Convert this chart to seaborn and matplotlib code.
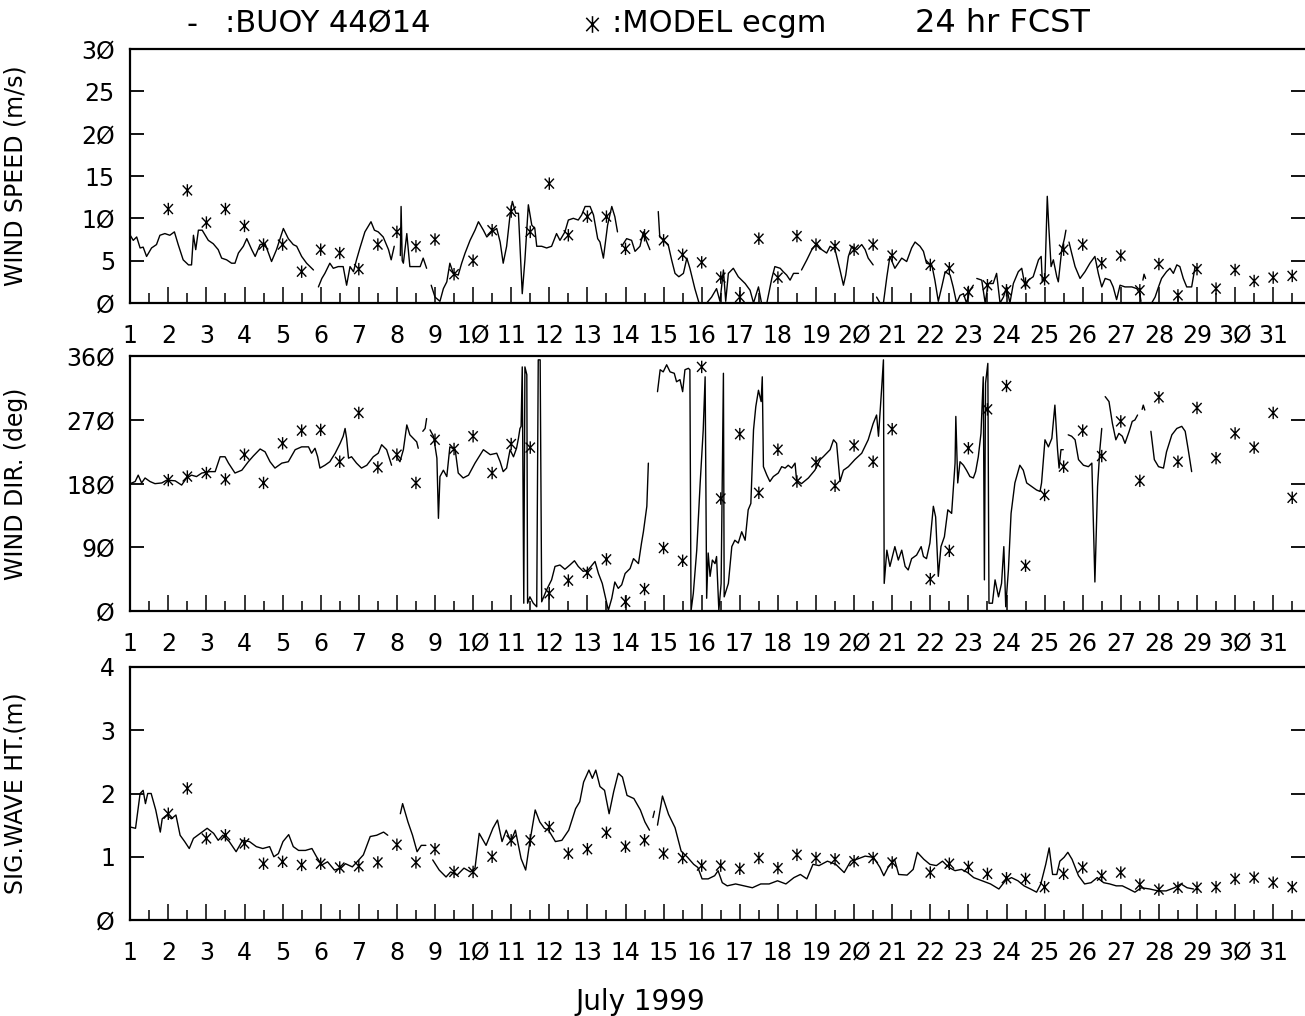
import numpy as np
import pandas as pd
import matplotlib
matplotlib.use("Agg")
import matplotlib.pyplot as plt
import seaborn as sns
from matplotlib.path import Path
from matplotlib.lines import Line2D

nan = np.nan

# ---------------- data (day of July 1999, value); nan separates data gaps ----------------
SPEED_DAY = [
    1.00, 1.08, 1.17, 1.26, 1.34, 1.43, 1.56, 1.69, 1.78, 1.91, 2.04, 2.16, 2.26, 2.39, 2.53, 2.61, 2.66, 2.72, 2.79, 2.89,
    3.05, 3.18, 3.31, 3.40, 3.53, 3.66, 3.75, 3.84, 3.97, 4.06, 4.19, 4.28, 4.41, 4.54, 4.71, 4.84, 5.02, 5.15, 5.28, 5.37,
    5.50, 5.63, 5.72, 5.81, nan,
    5.94, 6.03, 6.11, 6.24, 6.33, 6.46, 6.59, 6.68, 6.77, 6.86, 6.94, 7.03, 7.16, 7.32, 7.41, 7.51, 7.64, 7.78, 7.85, 7.93, nan,
    8.09, 8.11, 8.14, 8.17, 8.26, 8.34, 8.48, 8.61, 8.69, 8.78, nan,
    8.90, 9.00, 9.13, 9.22, 9.31, 9.39, 9.48, 9.61, 9.70, 9.79, 9.92, 10.05, 10.14, 10.27, 10.36, 10.49, 10.62, 10.71, 10.79,
    10.88, 10.97, 11.03, 11.12, 11.19, 11.29, 11.36, 11.45, 11.54, 11.62, 11.67, 11.80, 11.93, 12.06, 12.19, 12.28, 12.41,
    12.50, 12.63, 12.76, 12.85, 12.94, 13.07, 13.16, 13.27, 13.33, 13.42, 13.53, 13.64, 13.72, 13.79, nan,
    13.90, 14.03, 14.16, 14.25, 14.38, 14.47, 14.56, 14.64, nan,
    14.86, 14.90, 15.00, 15.12, 15.21, 15.30, 15.40, 15.52, 15.61, 15.69, 15.82, 15.93, 16.13, 16.26, 16.39, 16.48, 16.57,
    16.63, 16.70, 16.83, 16.96, 17.14, 17.27, 17.36, 17.49, 17.57, 17.71, 17.84, 17.92, 18.06, 18.14, 18.23, 18.32, 18.41,
    18.54, nan,
    18.62, 18.76, 18.89, 19.02, 19.15, 19.28, 19.37, 19.50, 19.63, 19.72, 19.78, 19.85, 19.94, 20.07, 20.20, 20.29, 20.37,
    20.50, nan,
    20.59, 20.68, 20.77, 20.86, 20.94, 21.07, 21.25, 21.38, 21.51, 21.60, 21.73, 21.82, 21.90, 22.04, 22.12, 22.21, 22.30,
    22.39, 22.52, 22.60, 22.69, 22.78, 22.87, 22.95, 23.04, 23.13, nan,
    23.22, 23.35, 23.44, 23.52, 23.65, 23.74, 23.83, 23.92, 24.00, 24.09, 24.18, 24.31, 24.40, 24.49, 24.57, 24.70, 24.84,
    24.91, 24.94, 25.01, 25.07, 25.11, 25.17, 25.23, 25.32, 25.36, 25.45, 25.52, 25.56, nan,
    25.64, 25.71, 25.80, 25.93, 26.06, 26.19, 26.32, 26.41, 26.50, 26.59, 26.72, 26.80, 26.89, 26.98, 27.11, 27.29, 27.42,
    27.50, 27.53, nan,
    27.58, 27.61, 27.65, nan,
    27.81, 27.90, 27.99, 28.07, 28.20, 28.29, 28.38, 28.47, 28.55, 28.64, 28.73, 28.86, 28.95,
]
SPEED_VAL = [
    8.0, 7.4, 7.8, 6.5, 6.6, 5.5, 6.5, 6.9, 8.0, 8.2, 8.0, 8.4, 6.9, 5.1, 4.5, 4.5, 8.0, 6.3, 8.6, 8.6,
    7.4, 7.0, 6.3, 5.3, 5.1, 4.7, 4.7, 5.9, 6.7, 7.6, 6.3, 5.5, 6.9, 7.0, 4.9, 6.3, 8.8, 7.6, 6.9, 6.7,
    5.5, 4.7, 4.3, 3.9, nan,
    1.9, 2.9, 3.5, 4.7, 4.1, 4.3, 4.3, 2.1, 4.3, 3.7, 5.1, 6.5, 8.4, 9.6, 8.6, 8.4, 7.8, 6.3, 5.1, 6.7, nan,
    5.6, 11.4, 5.0, 4.7, 8.2, 4.3, 4.3, 4.3, 5.3, 4.1, nan,
    2.1, 0.7, 0.2, 1.7, 2.5, 4.7, 3.5, 3.3, 4.7, 5.9, 7.4, 8.6, 9.6, 8.6, 7.8, 8.4, 8.8, 7.2, 4.7,
    6.7, 10.4, 12.0, 10.6, 10.6, 1.1, 5.1, 11.6, 9.2, 8.8, 6.7, 6.7, 6.5, 6.7, 8.2, 7.4, 8.4,
    9.8, 10.0, 9.8, 10.4, 11.4, 11.4, 10.4, 7.6, 7.2, 5.3, 9.2, 11.4, 10.2, 8.4, nan,
    6.7, 7.6, 7.4, 6.1, 6.7, 8.4, 7.2, 6.3, nan,
    10.8, 7.8, 7.4, 6.9, 5.1, 3.5, 3.1, 3.5, 5.3, 4.1, 1.7, 0.0, 0.0, 0.7, 1.7, 0.2, 3.9,
    0.2, 3.5, 4.1, 3.1, 2.3, 1.5, 0.0, 1.9, 0.0, 0.0, 2.9, 4.3, 4.1, 3.7, 3.3, 2.7, 3.5,
    3.5, nan,
    3.9, 5.1, 6.3, 7.0, 6.3, 5.9, 6.7, 6.3, 3.9, 2.1, 3.3, 5.5, 6.7, 6.3, 6.9, 6.3, 5.3,
    4.5, nan,
    0.7, 0.0, 0.0, 3.1, 5.5, 4.1, 5.3, 4.9, 6.5, 7.2, 6.7, 6.1, 4.7, 4.5, 2.7, 0.2, 1.9,
    3.7, 3.3, 1.9, 0.0, 0.9, 1.1, 0.0, 1.5, 2.1, nan,
    2.9, 2.7, 0.0, 2.3, 2.3, 3.5, 0.0, 0.7, 1.9, 0.0, 2.3, 3.7, 4.1, 1.9, 2.7, 3.1, 5.1,
    5.5, 2.5, 3.1, 12.6, 9.0, 4.3, 5.1, 3.1, 2.5, 6.3, 7.6, 8.6, nan,
    7.2, 5.9, 4.3, 2.9, 3.7, 4.7, 5.5, 3.5, 1.9, 2.9, 2.7, 1.9, 0.4, 2.1, 1.9, 1.9, 1.7,
    1.1, 0.2, nan,
    2.7, 3.4, 2.9, nan,
    0.0, 0.7, 1.9, 2.9, 3.7, 4.1, 3.5, 4.5, 4.3, 2.9, 1.9, 1.9, 4.3,
]

DIR_DAY = [
    1.00, 1.13, 1.21, 1.30, 1.39, 1.52, 1.65, 1.83, 1.96, 2.18, 2.35, 2.48, 2.61, 2.74, 2.88, 3.09, 3.23, 3.36, 3.49, 3.58,
    3.75, 3.93, 4.10, 4.23, 4.41, 4.54, 4.67, 4.80, 4.98, 5.15, 5.33, 5.50, 5.68, 5.76, 5.85, 5.92, 5.98, 6.11, 6.24, 6.38,
    6.51, 6.59, 6.64, 6.68, 6.73, 6.81, 6.94, 7.07, 7.21, 7.38, 7.51, 7.60, 7.73, 7.86, nan,
    7.99, 8.08, 8.17, 8.26, 8.34, 8.43, 8.52, 8.56, nan,
    8.68, 8.74, 8.78, nan,
    8.87, 8.96, 9.05, 9.09, 9.13, 9.22, 9.31, 9.39, 9.53, 9.61, 9.74, 9.88, 10.05, 10.27, 10.45, 10.62, 10.71, 10.79, 10.88,
    10.97, 11.06, 11.14, 11.19, 11.23, 11.26, 11.29, 11.33, 11.36, 11.41, 11.43, 11.49, 11.58, 11.67, 11.71, 11.76, 11.80,
    11.93, 12.06, 12.15, 12.28, 12.41, 12.54, 12.66, 12.76, 12.89, 13.02, 13.20, 13.29, 13.39, 13.55, 13.64, 13.72, 13.81,
    13.90, 13.99, 14.12, 14.21, 14.34, 14.42, 14.47, 14.56, 14.60, nan,
    14.84, 14.91, 14.99, 15.08, 15.17, 15.28, 15.34, 15.43, 15.50, 15.56, 15.65, 15.69, 15.72, 15.78, 15.87, 15.96, 16.04,
    16.09, 16.13, 16.17, 16.22, 16.28, 16.35, 16.39, 16.45, 16.51, 16.57, 16.59, 16.70, 16.79, 16.87, 16.96, 17.05, 17.14,
    17.22, 17.29, 17.36, 17.42, 17.49, 17.56, 17.59, 17.62, 17.71, 17.79, 17.88, 18.01, 18.10, 18.19, 18.27, 18.36, 18.45,
    18.49, 18.62, 18.80, 18.97, 19.11, 19.19, 19.28, 19.37, 19.46, 19.54, 19.63, 19.72, 19.85, 20.02, 20.20, 20.37, 20.50,
    20.59, 20.64, 20.72, 20.77, 20.79, 20.86, 20.94, 21.07, 21.16, 21.25, 21.34, 21.42, 21.51, 21.64, 21.76, 21.82, 21.90,
    21.99, 22.08, 22.14, 22.21, 22.28, 22.37, 22.46, 22.56, 22.65, 22.67, 22.72, 22.78, 22.87, 22.95, 23.04, 23.13, 23.19,
    23.26, 23.33, 23.39, 23.42, 23.45, 23.51, 23.54, 23.63, 23.70, 23.79, 23.87, 23.93, 23.98, 24.05, 24.12, 24.22, 24.35,
    24.44, 24.53, 24.66, 24.79, 24.88, 24.92, 25.01, 25.10, 25.19, 25.27, 25.34, 25.38, 25.43, 25.49, nan,
    25.62, 25.71, 25.80, 25.89, 26.02, 26.15, 26.24, 26.32, 26.39, 26.45, 26.50, nan,
    26.59, 26.69, 26.78, 26.87, 26.95, 27.04, 27.11, 27.22, 27.30, 27.37, 27.44, nan,
    27.56, 27.59, 27.63, nan,
    27.79, 27.88, 27.99, 28.12, 28.20, 28.34, 28.47, 28.60, 28.69, 28.77, 28.86,
]
DIR_VAL = [
    180, 183, 192, 181, 188, 183, 180, 181, 185, 184, 178, 188, 192, 190, 195, 197, 197, 218, 218, 209,
    195, 199, 211, 219, 229, 225, 211, 202, 209, 211, 228, 232, 232, 223, 230, 218, 202, 206, 211, 223,
    237, 247, 258, 244, 216, 218, 209, 202, 206, 218, 223, 235, 228, 206, nan,
    218, 211, 228, 263, 249, 244, 239, 230, nan,
    254, 258, 272, nan,
    256, 247, 216, 131, 190, 199, 190, 232, 228, 195, 188, 192, 209, 228, 221, 223, 211, 197, 202,
    228, 218, 230, 244, 258, 261, 345, 11, 345, 334, 11, 20, 11, 6, 355, 355, 13,
    30, 44, 63, 65, 59, 65, 71, 63, 56, 58, 70, 53, 39, 1, 18, 41, 32,
    37, 53, 60, 74, 67, 96, 112, 148, 209, nan,
    310, 341, 338, 348, 338, 336, 324, 327, 310, 341, 343, 341, 0, 25, 86, 181, 256,
    331, 18, 82, 49, 72, 67, 77, 1, 39, 336, 20, 39, 91, 100, 96, 112, 100,
    143, 152, 256, 289, 312, 296, 331, 204, 192, 183, 190, 195, 204, 202, 206, 202, 209,
    185, 180, 188, 199, 214, 218, 223, 228, 242, 237, 183, 199, 204, 214, 223, 242, 265,
    277, 247, 312, 355, 39, 86, 63, 91, 72, 86, 63, 58, 74, 79, 91, 77, 74,
    96, 148, 133, 49, 91, 105, 143, 138, 209, 275, 181, 211, 206, 199, 190, 188, 197,
    218, 251, 331, 44, 322, 350, 11, 11, 44, 20, 39, 91, 6, 58, 138, 181, 206,
    199, 181, 176, 171, 169, 181, 242, 232, 244, 291, 228, 202, 228, 228, nan,
    249, 247, 242, 214, 206, 204, 209, 41, 176, 228, 258, nan,
    303, 296, 265, 242, 251, 247, 237, 254, 268, 270, 277, nan,
    285, 291, 284, nan,
    254, 214, 204, 202, 225, 249, 258, 261, 254, 228, 197,
]

WAVE_DAY = [
    1.00, 1.14, 1.26, 1.34, 1.40, 1.46, 1.55, 1.67, 1.79, 1.84, 1.96, 2.08, 2.20, 2.31, 2.43, 2.55, 2.66, 2.84, 3.02, 3.19,
    3.31, 3.43, 3.60, 3.78, 3.95, 4.13, 4.31, 4.48, 4.66, 4.77, 4.89, 5.01, 5.16, 5.28, 5.42, 5.60, 5.77, 5.89, 6.03, 6.18,
    6.36, 6.53, 6.65, 6.83, 7.00, 7.12, 7.30, 7.47, 7.65, 7.76, nan,
    8.09, 8.15, 8.29, 8.41, 8.53, 8.64, 8.76, nan,
    8.94, 9.11, 9.29, 9.41, 9.58, 9.76, 9.93, 10.05, 10.16, 10.34, 10.52, 10.64, 10.76, 10.87, 10.99, 11.11, 11.26, 11.38,
    11.49, 11.63, 11.75, 11.87, 11.98, 12.16, 12.33, 12.51, 12.69, 12.80, 12.90, 13.04, 13.13, 13.22, 13.33, 13.45, 13.57,
    13.69, 13.81, 13.92, 14.04, 14.22, 14.39, 14.51, 14.63, nan,
    14.72, 14.76, nan,
    14.84, 14.97, 15.13, 15.30, 15.46, 15.63, 15.79, 15.90, 16.01, 16.17, 16.34, 16.43, 16.54, 16.67, 16.89, 17.11, 17.33,
    17.55, 17.77, 17.99, 18.21, 18.42, 18.59, 18.76, 18.92, 19.08, 19.30, 19.52, 19.74, 19.91, 20.07, 20.29, 20.51, 20.68,
    20.78, 20.89, 21.06, 21.17, 21.39, 21.55, 21.66, 21.83, 21.99, 22.16, 22.32, 22.49, 22.65, 22.82, 22.98, 23.14, 23.36,
    23.58, 23.80, 23.97, 24.13, 24.30, 24.46, 24.63, 24.79, 24.90, 25.03, 25.12, 25.21, 25.32, 25.40, 25.51, 25.61, 25.72,
    25.89, 26.05, 26.22, 26.38, 26.55, 26.71, 26.88, 27.04, 27.21, 27.37, 27.54, 27.76, 27.98, 28.19, 28.41, 28.58, 28.74,
    28.91,
]
WAVE_VAL = [
    1.47, 1.45, 2.00, 2.05, 1.84, 2.00, 2.00, 1.74, 1.39, 1.60, 1.66, 1.60, 1.66, 1.34, 1.24, 1.13, 1.29, 1.37, 1.45, 1.37,
    1.26, 1.34, 1.24, 1.08, 1.26, 1.24, 1.16, 1.13, 1.16, 1.00, 1.05, 1.24, 1.35, 1.16, 1.10, 1.10, 1.13, 1.00, 0.87, 0.92,
    0.79, 0.82, 0.89, 0.84, 0.95, 1.03, 1.32, 1.34, 1.39, 1.34, nan,
    1.68, 1.84, 1.55, 1.34, 1.08, 1.18, 1.18, nan,
    0.95, 0.79, 0.68, 0.76, 0.71, 0.82, 0.76, 0.82, 1.37, 1.18, 1.45, 1.58, 1.24, 1.42, 1.24, 1.42, 0.97, 0.79,
    1.24, 1.74, 1.55, 1.45, 1.42, 1.24, 1.26, 1.42, 1.76, 1.87, 2.18, 2.37, 2.24, 2.37, 2.11, 2.05, 1.68,
    2.03, 2.32, 2.26, 1.97, 1.92, 1.74, 1.55, 1.42, nan,
    1.62, 1.72, nan,
    1.50, 1.96, 1.67, 1.46, 1.09, 0.99, 0.88, 0.83, 0.65, 0.65, 0.70, 0.78, 0.59, 0.54, 0.57, 0.54, 0.51,
    0.57, 0.57, 0.62, 0.57, 0.67, 0.72, 0.65, 0.88, 0.86, 0.93, 0.88, 0.75, 0.93, 0.96, 1.01, 0.99, 0.83,
    0.70, 0.83, 0.96, 0.72, 0.71, 0.80, 1.07, 0.96, 0.88, 0.86, 0.93, 0.83, 0.78, 0.80, 0.75, 0.67, 0.62,
    0.57, 0.49, 0.62, 0.67, 0.62, 0.54, 0.49, 0.44, 0.57, 0.88, 1.14, 0.72, 0.72, 0.93, 0.99, 1.07, 0.96,
    0.70, 0.57, 0.59, 0.67, 0.59, 0.57, 0.54, 0.54, 0.49, 0.44, 0.51, 0.49, 0.46, 0.46, 0.51, 0.57, 0.51,
    0.49,
]

MODEL_DAY = [
    2.0, 2.5, 3.0, 3.5, 4.0, 4.5, 5.0, 5.5, 6.0, 6.5, 7.0, 7.5, 8.0, 8.5, 9.0, 9.5, 10.0, 10.5, 11.0, 11.5,
    12.0, 12.5, 13.0, 13.5, 14.0, 14.5, 15.0, 15.5, 16.0, 16.5, 17.0, 17.5, 18.0, 18.5, 19.0, 19.5, 20.0, 20.5, 21.0,
    22.0, 22.5, 23.0, 23.5, 24.0, 24.5, 25.0, 25.5, 26.0, 26.5, 27.0, 27.5, 28.0, 28.5, 29.0, 29.5, 30.0, 30.5, 31.0, 31.5,
]
MODEL_SPEED = [
    11.1, 13.3, 9.5, 11.1, 9.1, 6.9, 6.9, 3.7, 6.3, 5.9, 4.0, 6.9, 8.4, 6.7, 7.5, 3.4, 5.0, 8.6, 10.8, 8.4,
    14.1, 8.0, 10.2, 10.2, 6.4, 8.0, 7.4, 5.7, 4.8, 3.0, 0.7, 7.6, 3.0, 7.9, 6.9, 6.7, 6.3, 6.9, 5.6,
    4.5, 4.1, 1.3, 2.1, 1.5, 2.3, 2.8, 6.3, 6.9, 4.7, 5.6, 1.5, 4.6, 0.9, 4.0, 1.7, 3.9, 2.6, 3.0, 3.2,
]
MODEL_DIR = [
    185, 190, 195, 186, 221, 181, 237, 255, 256, 211, 280, 203, 221, 181, 242, 229, 247, 195, 236, 231,
    25, 43, 54, 73, 13, 31, 89, 71, 345, 159, 250, 167, 228, 183, 210, 177, 234, 211, 257,
    45, 85, 230, 285, 318, 64, 164, 204, 255, 219, 268, 184, 302, 211, 287, 216, 251, 231, 280, 160,
]
MODEL_WAVE = [
    1.68, 2.08, 1.29, 1.34, 1.21, 0.89, 0.92, 0.87, 0.89, 0.83, 0.85, 0.91, 1.19, 0.91, 1.12, 0.76, 0.76, 1.00, 1.26, 1.26,
    1.47, 1.05, 1.12, 1.38, 1.16, 1.26, 1.05, 0.98, 0.86, 0.86, 0.81, 0.98, 0.82, 1.03, 0.98, 0.96, 0.93, 0.98, 0.91,
    0.75, 0.89, 0.84, 0.73, 0.66, 0.65, 0.52, 0.73, 0.83, 0.70, 0.75, 0.56, 0.48, 0.51, 0.51, 0.52, 0.65, 0.67, 0.59, 0.52,
]

DAY_TICKS = list(range(1, 32))
PANELS = [
    ("WIND SPEED (m/s)", SPEED_DAY, SPEED_VAL, MODEL_SPEED, (0, 30), [0, 5, 10, 15, 20, 25, 30]),
    ("WIND DIR. (deg)", DIR_DAY, DIR_VAL, MODEL_DIR, (0, 360), [0, 90, 180, 270, 360]),
    ("SIG.WAVE HT.(m)", WAVE_DAY, WAVE_VAL, MODEL_WAVE, (0, 4), [0, 1, 2, 3, 4]),
]
TITLE_BUOY = ":BUOY 44\u00d814"
TITLE_MODEL = ":MODEL ecgm"
TITLE_FCST = "24 hr FCST"
XLABEL = "July 1999"


def slashed(v):
    return str(v).replace("0", "\u00d8")


def segments(days, vals):
    d = np.asarray(days, float)
    v = np.asarray(vals, float)
    seg = np.cumsum(np.isnan(v))
    m = ~np.isnan(v)
    return pd.DataFrame({"day": d[m], "val": v[m], "seg": seg[m]})


# asterisk marker: vertical bar plus two diagonals
AST = Path([(0, -1), (0, 1), (-0.75, -0.8), (0.75, 0.8), (-0.75, 0.8), (0.75, -0.8)],
           [Path.MOVETO, Path.LINETO, Path.MOVETO, Path.LINETO, Path.MOVETO, Path.LINETO])

sns.set_theme(style="white")
plt.rcParams["font.family"] = ["DejaVu Sans"]
plt.rcParams["axes.linewidth"] = 1.6
for key in ("text.color", "axes.labelcolor", "xtick.color", "ytick.color", "axes.edgecolor"):
    plt.rcParams[key] = "black"

W, H = 1305, 1016
fig = plt.figure(figsize=(W / 100, H / 100), dpi=100)

x_left = 130.2
px_per_day = 38.1
xmax = 1 + (W - x_left) / px_per_day
boxes = [(49, 303), (356.3, 611), (667, 920)]

for (ylabel, bd, bv, mv, ylim, yt), (top, bot) in zip(PANELS, boxes):
    ax = fig.add_axes([x_left / W, 1 - bot / H, (W - x_left) / W, (bot - top) / H])
    df = segments(bd, bv)
    sns.lineplot(data=df, x="day", y="val", units="seg", estimator=None, sort=False,
                 color="black", linewidth=1.0, ax=ax, legend=False)
    sns.scatterplot(x=MODEL_DAY, y=mv, marker=AST, s=80, facecolor="none",
                    edgecolor="black", linewidth=1.0, ax=ax, legend=False, zorder=3)
    ax.set_xlim(1, xmax)
    ax.set_ylim(*ylim)
    ax.set_xticks(DAY_TICKS)
    ax.set_xticklabels([slashed(d) for d in DAY_TICKS])
    ax.set_xticks(np.arange(1.5, 32, 1.0), minor=True)
    ax.set_yticks(yt)
    ax.set_yticklabels([slashed(v) for v in yt])
    ax.tick_params(axis="x", which="major", direction="in", length=11.5, width=1.1,
                   pad=15, labelsize=17, bottom=True)
    ax.tick_params(axis="x", which="minor", direction="in", length=7, width=1.1, bottom=True)
    ax.tick_params(axis="y", which="major", direction="in", length=10, width=1.3,
                   pad=11, labelsize=17, left=True, right=True, labelright=False)
    ax.spines["right"].set_visible(False)
    ax.set_xlabel("")
    ax.set_ylabel(ylabel, fontsize=17, labelpad=0)
    ax.yaxis.set_label_coords(-(x_left - 28) / (W - x_left), 0.5)
    ax.grid(False)

# header / legend line
ty = 1 - 24 / H
fig.text(192 / W, ty, "-", fontsize=22, ha="center", va="center")
fig.text(225 / W, ty, TITLE_BUOY, fontsize=22, ha="left", va="center")
fig.add_artist(Line2D([592 / W], [ty], transform=fig.transFigure, marker=AST,
                      markersize=12, color="black", mew=1.1, linestyle="none"))
fig.text(612 / W, ty, TITLE_MODEL, fontsize=22, ha="left", va="center")
fig.text(915 / W, ty, TITLE_FCST, fontsize=23, ha="left", va="center")
fig.text(640 / W, 1 - 1002 / H, XLABEL, fontsize=20, ha="center", va="center")

fig.savefig("out.png", dpi=100)
